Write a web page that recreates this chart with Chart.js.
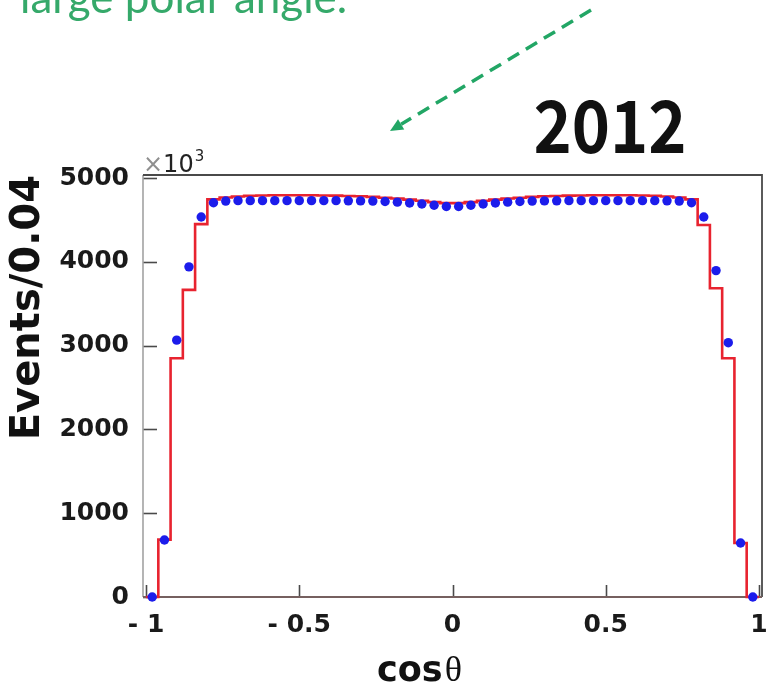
<!DOCTYPE html>
<html>
<head>
<meta charset="utf-8">
<script src="https://cdn.jsdelivr.net/npm/chart.js@4.4.1/dist/chart.umd.min.js"></script>
<style>
  html, body { margin: 0; padding: 0; background: #ffffff; }
  canvas { display: block; }
</style>
</head>
<body>
<canvas id="c" width="769" height="689"></canvas>
<script>
// cos(theta) distribution, 50 bins of width 0.04 from -1 to 1
const binWidth = 0.04;
const binCenters = [
  -0.98, -0.94, -0.90, -0.86, -0.82, -0.78, -0.74, -0.70, -0.66, -0.62,
  -0.58, -0.54, -0.50, -0.46, -0.42, -0.38, -0.34, -0.30, -0.26, -0.22,
  -0.18, -0.14, -0.10, -0.06, -0.02,  0.02,  0.06,  0.10,  0.14,  0.18,
   0.22,  0.26,  0.30,  0.34,  0.38,  0.42,  0.46,  0.50,  0.54,  0.58,
   0.62,  0.66,  0.70,  0.74,  0.78,  0.82,  0.86,  0.90,  0.94,  0.98
];
// measured events (blue points)
const dataCounts = [
     0,  680, 3065, 3940, 4535, 4705, 4725, 4730, 4730, 4730,
  4730, 4730, 4730, 4730, 4730, 4730, 4728, 4727, 4725, 4720,
  4712, 4702, 4690, 4675, 4660, 4660, 4675, 4690, 4702, 4712,
  4720, 4725, 4727, 4728, 4730, 4730, 4730, 4730, 4730, 4730,
  4730, 4730, 4728, 4725, 4705, 4535, 3895, 3035,  645,    0
];
// simulated expectation (red histogram)
const mcCounts = [
     0,  685, 2850, 3665, 4450, 4745, 4768, 4780, 4788, 4792,
  4795, 4795, 4795, 4795, 4792, 4790, 4786, 4782, 4775, 4765,
  4755, 4742, 4728, 4712, 4700, 4700, 4712, 4728, 4742, 4755,
  4765, 4775, 4782, 4786, 4790, 4792, 4795, 4795, 4795, 4795,
  4792, 4788, 4780, 4768, 4745, 4440, 3685, 2850,  645,    0
];
const yTicks = [0, 1000, 2000, 3000, 4000, 5000];
const xTicks = [-1, -0.5, 0, 0.5, 1];
const xTickLabels = ['- 1', '- 0.5', '0', '0.5', '1'];

const dataPoints = binCenters.map((c, i) => ({ x: c, y: dataCounts[i] }));
// histogram outline: bin centres stepped at the midpoints, closed at both outer edges
const mcPoints = [{ x: binCenters[0] - binWidth / 2, y: mcCounts[0] }]
  .concat(binCenters.map((c, i) => ({ x: c, y: mcCounts[i] })))
  .concat([{ x: binCenters[binCenters.length - 1] + binWidth / 2, y: mcCounts[mcCounts.length - 1] }]);

const tickFont = { family: "'DejaVu Sans', sans-serif", weight: 'bold', size: 25 };

// frame and inward tick marks, drawn beneath the data
const framePlugin = {
  id: 'frame',
  beforeDatasetsDraw(chart) {
    const { ctx, chartArea: a, scales } = chart;
    ctx.save();
    ctx.lineCap = 'butt';
    // inner ticks
    ctx.strokeStyle = '#4a4a4a';
    ctx.lineWidth = 1.6;
    yTicks.forEach(v => {
      const y = Math.round(scales.y.getPixelForValue(v)) + 0.5;
      ctx.beginPath(); ctx.moveTo(a.left, y); ctx.lineTo(a.left + 14, y); ctx.stroke();
    });
    xTicks.forEach(v => {
      const x = Math.round(scales.x.getPixelForValue(v)) + 0.5;
      ctx.beginPath(); ctx.moveTo(x, a.bottom); ctx.lineTo(x, a.bottom - 12); ctx.stroke();
    });
    // frame sides
    ctx.lineWidth = 1.6;
    ctx.strokeStyle = '#a2a2a2';
    ctx.beginPath(); ctx.moveTo(a.left, a.top); ctx.lineTo(a.left, a.bottom); ctx.stroke();
    ctx.strokeStyle = '#4a4a4a';
    ctx.lineWidth = 1.8;
    ctx.beginPath(); ctx.moveTo(a.left, a.top); ctx.lineTo(a.right, a.top); ctx.lineTo(a.right, a.bottom); ctx.stroke();
    ctx.lineWidth = 2;
    ctx.strokeStyle = '#76605f';
    ctx.beginPath(); ctx.moveTo(a.left, a.bottom); ctx.lineTo(a.right, a.bottom); ctx.stroke();
    ctx.restore();
  }
};

// slide annotations: caption, arrow, year, exponent and x-axis title
const notesPlugin = {
  id: 'notes',
  afterDraw(chart) {
    const { ctx, chartArea: a } = chart;
    ctx.save();

    // green caption, running off the top edge
    ctx.fillStyle = '#35a96a';
    ctx.font = "44px 'Lato', 'Open Sans', sans-serif";
    ctx.textAlign = 'left';
    ctx.textBaseline = 'alphabetic';
    ctx.fillText('large polar angle.', 20, 13);

    // dashed pointer arrow
    const x0 = 591, y0 = 10, x1 = 390, y1 = 131;
    const dx = x1 - x0, dy = y1 - y0, len = Math.hypot(dx, dy);
    const ux = dx / len, uy = dy / len;
    const head = 13, hw = 6;
    ctx.strokeStyle = '#22a665';
    ctx.fillStyle = '#22a665';
    ctx.lineWidth = 3.5;
    ctx.setLineDash([13, 8]);
    ctx.beginPath(); ctx.moveTo(x0, y0); ctx.lineTo(x1 - ux * head, y1 - uy * head); ctx.stroke();
    ctx.setLineDash([]);
    ctx.beginPath();
    ctx.moveTo(x1, y1);
    ctx.lineTo(x1 - ux * head - uy * hw, y1 - uy * head + ux * hw);
    ctx.lineTo(x1 - ux * head + uy * hw, y1 - uy * head - ux * hw);
    ctx.closePath(); ctx.fill();

    // year
    ctx.fillStyle = '#111111';
    ctx.font = "bold 72px 'Noto Sans CJK JP', 'Noto Sans', sans-serif";
    ctx.textAlign = 'center';
    ctx.save();
    ctx.translate(610, 153);
    ctx.scale(0.9, 1);
    ctx.fillText('2012', 0, 0);
    ctx.restore();

    // axis exponent
    ctx.textAlign = 'left';
    ctx.font = "24px 'DejaVu Sans', sans-serif";
    let x = a.left;
    ctx.fillStyle = '#8f8f8f';
    ctx.fillText('×', x, 172);
    x += ctx.measureText('×').width;
    ctx.fillStyle = '#222222';
    ctx.fillText('10', x, 172);
    x += ctx.measureText('10').width;
    ctx.font = "15px 'DejaVu Sans', sans-serif";
    ctx.fillText('3', x + 1, 161);

    // x-axis title
    ctx.fillStyle = '#111111';
    ctx.font = "bold 35px 'DejaVu Sans', sans-serif";
    ctx.fillText('cos', 377, 681);
    const w = ctx.measureText('cos').width;
    ctx.font = "36px 'Liberation Serif', serif";
    ctx.fillText('θ', 377 + w + 2, 681);

    ctx.restore();
  }
};

function build() {
  new Chart(document.getElementById('c'), {
    type: 'scatter',
    data: {
      datasets: [
        {
          label: 'Data',
          data: dataPoints,
          showLine: false,
          pointRadius: 4.7,
          pointHoverRadius: 4.7,
          pointBorderWidth: 0,
          pointBackgroundColor: '#1c1ceb',
          pointBorderColor: '#1c1ceb',
          clip: false
        },
        {
          label: 'MC',
          data: mcPoints,
          showLine: true,
          stepped: 'middle',
          borderColor: '#e8232f',
          borderWidth: 2.6,
          pointRadius: 0,
          fill: false,
          clip: false
        }
      ]
    },
    options: {
      responsive: false,
      animation: false,
      devicePixelRatio: 1,
      layout: { padding: { top: 175, right: 7, left: 0, bottom: 0 } },
      plugins: { legend: { display: false }, tooltip: { enabled: false } },
      scales: {
        x: {
          type: 'linear',
          min: -1.01,
          max: 1.01,
          afterBuildTicks: s => { s.ticks = xTicks.map(v => ({ value: v })); },
          afterFit: s => { s.height = 92; s.paddingLeft = 0; s.paddingRight = 0; },
          grid: { display: false, drawTicks: false },
          border: { display: false },
          ticks: {
            font: tickFont,
            color: '#1a1a1a',
            padding: 13,
            maxRotation: 0,
            autoSkip: false,
            callback: (v, i) => xTickLabels[i]
          }
        },
        y: {
          type: 'linear',
          min: 0,
          max: 5036,
          afterBuildTicks: s => { s.ticks = yTicks.map(v => ({ value: v })); },
          afterFit: s => { s.width = 143; s.paddingTop = 0; s.paddingBottom = 0; },
          grid: { display: false, drawTicks: false },
          border: { display: false },
          ticks: {
            font: tickFont,
            color: '#1a1a1a',
            padding: 14,
            callback: v => String(v)
          },
          title: {
            display: true,
            text: 'Events/0.04',
            align: 'end',
            color: '#111111',
            font: { family: "'DejaVu Sans', sans-serif", weight: 'bold', size: 40 },
            padding: { top: 5, bottom: 0 }
          }
        }
      }
    },
    plugins: [framePlugin, notesPlugin]
  });
}

const fontsWanted = [
  "bold 25px 'DejaVu Sans'", "24px 'DejaVu Sans'", "44px 'Lato'",
  "bold 72px 'Noto Sans CJK JP'", "36px 'Liberation Serif'"
];
if (document.fonts && document.fonts.load) {
  Promise.all(fontsWanted.map(f => document.fonts.load(f, '2012θ×'))).then(build, build);
} else {
  build();
}
</script>
</body>
</html>
